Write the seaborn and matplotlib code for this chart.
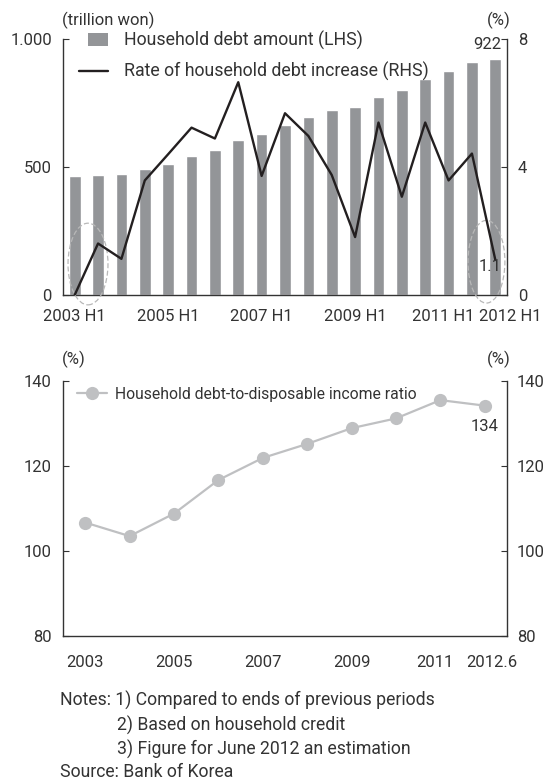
import numpy as np
import pandas as pd
import matplotlib
matplotlib.use("Agg")
import matplotlib.pyplot as plt
import matplotlib.patches as mpatches
from matplotlib.lines import Line2D
from matplotlib.legend_handler import HandlerPatch
from matplotlib.transforms import ScaledTranslation
import seaborn as sns

# ---------------- data ----------------
periods = ["2003 H1", "2003 H2", "2004 H1", "2004 H2", "2005 H1", "2005 H2",
           "2006 H1", "2006 H2", "2007 H1", "2007 H2", "2008 H1", "2008 H2",
           "2009 H1", "2009 H2", "2010 H1", "2010 H2", "2011 H1", "2011 H2",
           "2012 H1"]
debt_amount = [464, 470, 474, 493, 513, 542, 566, 605, 629, 664, 697, 722,
               736, 775, 800, 843, 874, 912, 922]
debt_growth = [0.0, 1.61, 1.13, 3.58, 4.40, 5.23, 4.89, 6.65, 3.72, 5.68,
               4.97, 3.75, 1.81, 5.39, 3.07, 5.39, 3.58, 4.42, 1.1]
top_label_periods = ["2003 H1", "2005 H1", "2007 H1", "2009 H1", "2011 H1", "2012 H1"]

years = ["2003", "2004", "2005", "2006", "2007", "2008", "2009", "2010",
         "2011", "2012.6"]
income_ratio = [106.7, 103.5, 108.8, 116.7, 121.9, 125.2, 128.9, 131.2,
                135.5, 134.2]
bottom_label_years = ["2003", "2005", "2007", "2009", "2011", "2012.6"]

legend_top = ["Household debt amount (LHS)", "Rate of household debt increase (RHS)"]
legend_bottom = "Household debt-to-disposable income ratio"
notes = ["Notes: 1) Compared to ends of previous periods",
         "2) Based on household credit",
         "3) Figure for June 2012 an estimation",
         "Source: Bank of Korea"]

# ---------------- style ----------------
sns.set_style("white")
plt.rcParams["font.family"] = ["Roboto", "DejaVu Sans"]
TXT = "#333333"
plt.rcParams["text.color"] = TXT
plt.rcParams["xtick.color"] = TXT
plt.rcParams["ytick.color"] = TXT
plt.rcParams["xtick.labelcolor"] = TXT
plt.rcParams["ytick.labelcolor"] = TXT
FS = 12
FS_LEG = 12.8
FS_LEG2 = 11.3
FS_NOTE = 12.7
BAR_C = "#939598"
LINE_C = "#231f20"
RATIO_C = "#bfc0c2"
SPINE_C = "#333333"

W, H = 549, 782
fig = plt.figure(figsize=(W / 100, H / 100), dpi=100)


def fx(px):
    return px / W


def fy(py):
    return 1 - py / H


def shift(lbl, dx_px):
    lbl.set_transform(lbl.get_transform() + ScaledTranslation(dx_px / 100, 0, fig.dpi_scale_trans))


# ---------------- top chart ----------------
ax1 = fig.add_axes([fx(63), fy(295), (507 - 63) / W, (295 - 39) / H])
n = len(periods)
df_top = pd.DataFrame({"period": periods, "pos": np.arange(n),
                       "amount": debt_amount, "growth": debt_growth})
sns.barplot(data=df_top, x="period", y="amount", color=BAR_C, saturation=1,
            width=0.5, ax=ax1)
ax1r = ax1.twinx()
sns.lineplot(data=df_top, x="pos", y="growth", color=LINE_C, lw=1.7, ax=ax1r)
ax1.set_xlim(-0.5, n - 0.5)
ax1.set_ylim(0, 1000)
ax1r.set_ylim(0, 8)
for a in (ax1, ax1r):
    a.set_xlabel("")
    a.set_ylabel("")
    a.grid(False)

maj = [periods.index(p) for p in top_label_periods]
ax1.set_xticks(maj)
ax1.set_xticklabels(top_label_periods, fontsize=FS)
ax1.set_xticks(np.arange(0.5, n - 1, 1), minor=True)
ax1.tick_params(axis="x", which="major", length=0, pad=10)
ax1.tick_params(axis="x", which="minor", direction="in", length=4, width=0.8, color=SPINE_C)
ax1.set_yticks([0, 500, 1000])
ax1.set_yticklabels(["0", "500", "1.000"], fontsize=FS)
ax1.tick_params(axis="y", direction="in", length=4, width=0.8, pad=8, color=SPINE_C)
ax1r.set_yticks([0, 4, 8])
ax1r.set_yticklabels(["0", "4", "8"], fontsize=FS)
ax1r.tick_params(axis="y", direction="in", length=4, width=0.8, pad=8, color=SPINE_C)

for a in (ax1, ax1r):
    a.spines["top"].set_visible(False)
ax1.spines["right"].set_visible(False)
ax1r.spines["left"].set_visible(False)
ax1r.spines["bottom"].set_visible(False)
for s in ("left", "bottom"):
    ax1.spines[s].set_color(SPINE_C)
    ax1.spines[s].set_linewidth(1.0)
ax1r.spines["right"].set_color(SPINE_C)
ax1r.spines["right"].set_linewidth(1.0)

xl = ax1.get_xticklabels()
shift(xl[-2], -5)
shift(xl[-1], 15)

# dashed ellipses
for cx, w, cy, h in [(0.57, 1.71, 121, 319), (17.62, 1.58, 130, 323)]:
    e = mpatches.Ellipse((cx, cy), w, h, fill=False, ls=(0, (4, 2)), lw=0.9,
                         edgecolor="#b8b8b8", clip_on=False, zorder=5)
    ax1.add_patch(e)

ax1.annotate(f"{debt_amount[-1]}", (n - 1, debt_amount[-1]), xytext=(4.5, 5),
             textcoords="offset points", ha="right", va="bottom", fontsize=FS)
ax1r.annotate(f"{debt_growth[-1]}", (n - 1, debt_growth[-1]), xytext=(-3.6, -5),
              textcoords="offset points", ha="center", va="center", fontsize=FS)

fig.text(fx(62), fy(20), "(trillion won)", ha="left", va="center", fontsize=FS)
fig.text(fx(511), fy(20), "(%)", ha="right", va="center", fontsize=FS)


def bar_patch(legend, orig_handle, xdescent, ydescent, width, height, fontsize):
    w = width * 0.69
    return mpatches.Rectangle((width - w - xdescent, -ydescent), w, height)


em_top = FS_LEG * 100 / 72
h_top = [mpatches.Patch(facecolor=BAR_C, edgecolor="none"),
         Line2D([], [], color=LINE_C, lw=1.7)]
ax1r.legend(h_top, legend_top, loc="upper left", bbox_to_anchor=(fx(79), fy(31)),
            bbox_transform=fig.transFigure, frameon=False, borderpad=0,
            borderaxespad=0, handlelength=29 / em_top, handletextpad=16 / em_top,
            labelspacing=0.67, fontsize=FS_LEG,
            handler_map={mpatches.Patch: HandlerPatch(patch_func=bar_patch)})

# ---------------- bottom chart ----------------
ax2 = fig.add_axes([fx(63), fy(636), 444 / W, (636 - 381) / H])
m = len(years)
df_bot = pd.DataFrame({"year": years, "pos": np.arange(m), "ratio": income_ratio})
sns.lineplot(data=df_bot, x="pos", y="ratio", color=RATIO_C, lw=1.6, marker="o",
             markersize=9.5, markeredgewidth=0, ax=ax2)
ax2.set_xlim(-0.5, m - 0.5)
ax2.set_ylim(80, 140)
ax2.set_xlabel("")
ax2.set_ylabel("")
ax2.grid(False)
ax2r = ax2.twinx()
ax2r.set_ylim(80, 140)

majb = [years.index(y) for y in bottom_label_years]
ax2.set_xticks(majb)
ax2.set_xticklabels(bottom_label_years, fontsize=FS)
ax2.set_xticks(np.arange(0.5, m - 1, 1), minor=True)
ax2.tick_params(axis="x", which="major", length=0, pad=14)
ax2.tick_params(axis="x", which="minor", direction="in", length=4, width=0.8, color=SPINE_C)
ax2.set_yticks([80, 100, 120, 140])
ax2.set_yticklabels(["80", "100", "120", "140"], fontsize=FS)
ax2.tick_params(axis="y", direction="in", length=4, width=0.8, pad=8, color=SPINE_C)
ax2r.set_yticks([80, 100, 120, 140])
ax2r.set_yticklabels(["80", "100", "120", "140"], fontsize=FS)
ax2r.tick_params(axis="y", direction="in", length=4, width=0.8, pad=7, color=SPINE_C)
for a in (ax2, ax2r):
    a.spines["top"].set_visible(False)
ax2.spines["right"].set_visible(False)
ax2r.spines["left"].set_visible(False)
ax2r.spines["bottom"].set_visible(False)
for s in ("left", "bottom"):
    ax2.spines[s].set_color(SPINE_C)
    ax2.spines[s].set_linewidth(1.0)
ax2r.spines["right"].set_color(SPINE_C)
ax2r.spines["right"].set_linewidth(1.0)

xl2 = ax2.get_xticklabels()
shift(xl2[-2], -6)
shift(xl2[-1], 7)

ax2.annotate(f"{income_ratio[-1]:.0f}", (m - 1, income_ratio[-1]), xytext=(0, -15),
             textcoords="offset points", ha="center", va="center", fontsize=FS)

fig.text(fx(62), fy(359), "(%)", ha="left", va="center", fontsize=FS)
fig.text(fx(511), fy(359), "(%)", ha="right", va="center", fontsize=FS)

em_bot = FS_LEG2 * 100 / 72
h_bot = [Line2D([], [], color=RATIO_C, lw=1.6, marker="o", markersize=9.5,
                markeredgewidth=0)]
ax2.legend(h_bot, [legend_bottom], loc="upper left", bbox_to_anchor=(fx(77), fy(386.5)),
           bbox_transform=fig.transFigure, frameon=False, borderpad=0,
           borderaxespad=0, handlelength=30 / em_bot, handletextpad=8 / em_bot,
           numpoints=1, fontsize=FS_LEG2)

# ---------------- notes ----------------
fig.text(fx(60), fy(700), notes[0], ha="left", va="center", fontsize=FS_NOTE)
fig.text(fx(117), fy(725), notes[1], ha="left", va="center", fontsize=FS_NOTE)
fig.text(fx(117), fy(749), notes[2], ha="left", va="center", fontsize=FS_NOTE)
fig.text(fx(60), fy(772), notes[3], ha="left", va="center", fontsize=FS_NOTE)

fig.savefig("out.png", dpi=100)
